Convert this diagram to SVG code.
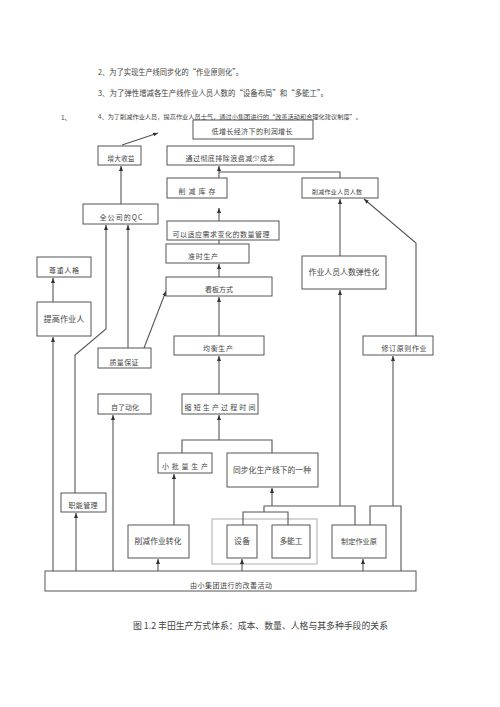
<svg xmlns="http://www.w3.org/2000/svg" width="500" height="707" viewBox="0 0 500 707">
<style>
.b{fill:#fff;stroke:#555;stroke-width:1}
.t{font-family:"Noto Sans CJK SC","Noto Sans",sans-serif;fill:#444;text-anchor:middle;font-size:7px}
.h{font-family:"Noto Sans CJK SC","Noto Sans",sans-serif;fill:#444;font-size:7.5px}
.c line,.c polyline{fill:none;stroke:#555;stroke-width:1.1}
.a{marker-end:url(#ah)}
</style>
<defs>
<marker id="ah" viewBox="0 0 10 10" refX="10" refY="5" markerWidth="5" markerHeight="5" markerUnits="userSpaceOnUse" orient="auto">
<path d="M0,1 L10,5 L0,9 z" fill="#333"/>
</marker>
</defs>
<rect width="500" height="707" fill="#fff"/>
<text class="h" x="98" y="75" textLength="145" lengthAdjust="spacingAndGlyphs">2、为了实现生产线同步化的“作业原则化”。</text>
<text class="h" x="98" y="96" textLength="230" lengthAdjust="spacingAndGlyphs">3、为了弹性增减各生产线作业人员人数的“设备布局”和“多能工”。</text>
<text class="h" x="61" y="120" style="font-size:6.5px">1、</text>

<g id="n_gray"><rect x="212" y="519" width="105" height="45" fill="none" stroke="#bbb" stroke-width="1.2"/></g>

<g class="c" id="connectors">
<line class="a" x1="122" y1="145" x2="158" y2="133"/>
<line class="a" x1="121" y1="204" x2="121" y2="166"/>
<polyline points="340,178 340,172 219,172"/>
<line class="a" x1="219" y1="178" x2="219" y2="166"/>
<line class="a" x1="219" y1="221" x2="219" y2="208"/>
<line class="a" x1="219" y1="244" x2="219" y2="232"/>
<line class="a" x1="219" y1="277" x2="219" y2="264"/>
<line class="a" x1="219" y1="336" x2="219" y2="297"/>
<line class="a" x1="219" y1="394" x2="219" y2="356"/>
<polyline points="182,453 182,440 272,440 272,453"/>
<line class="a" x1="219" y1="440" x2="219" y2="415"/>
<line class="a" x1="340" y1="256" x2="340" y2="199"/>
<polyline class="a" points="416,336 416,243 364,199"/>
<line class="a" x1="144" y1="348" x2="166" y2="291"/>
<line class="a" x1="128" y1="348" x2="128" y2="225"/>
<polyline class="a" points="75,493 75,355 106,329 106,225"/>
<line class="a" x1="53" y1="302" x2="53" y2="278"/>
<line class="a" x1="53" y1="571" x2="53" y2="337"/>
<line class="a" x1="76" y1="571" x2="76" y2="513"/>
<line class="a" x1="113" y1="571" x2="113" y2="415"/>
<line class="a" x1="174" y1="525" x2="174" y2="474"/>
<line class="a" x1="158" y1="571" x2="158" y2="559"/>
<line class="a" x1="242" y1="571" x2="242" y2="559"/>
<line class="a" x1="363" y1="571" x2="363" y2="559"/>
<polyline points="243,525 243,512 288,512 288,525"/>
<polyline points="264,512 264,506 355,506 355,525"/>
<line class="a" x1="272" y1="506" x2="272" y2="488"/>
<line class="a" x1="340" y1="506" x2="340" y2="290"/>
<polyline points="370,525 370,506 401,506 401,571"/>
<line class="a" x1="393" y1="506" x2="393" y2="356"/>
</g>

<g id="n_top"><rect class="b" x="193" y="120" width="120" height="19"/><text class="t" x="252" y="134" textLength="81">低增长经济下的利润增长</text></g>
<text class="h" x="98" y="119" style="font-size:6px" textLength="264" lengthAdjust="spacingAndGlyphs">4、为了削减作业人员，提高作业人员士气，通过小集团进行的“改善活动和合理化建议制度”。</text>
<g id="n_shouyi"><rect class="b" x="98" y="146" width="43" height="19"/><text class="t" x="121" y="161" style="font-size:6.5px" textLength="27">增大收益</text></g>
<g id="n_chengben"><rect class="b" x="167" y="146" width="127" height="19"/><text class="t" x="230" y="161" textLength="89">通过彻底排除浪费减少成本</text></g>
<g id="n_kucun"><rect class="b" x="167" y="178" width="60" height="20"/><text class="t" x="197" y="194" textLength="37">削减库存</text></g>
<g id="n_renshu"><rect class="b" x="302" y="178" width="76" height="20"/><text class="t" x="337" y="194" style="font-size:6px" textLength="50">削减作业人员人数</text></g>
<g id="n_qc"><rect class="b" x="83" y="204" width="75" height="20"/><text class="t" x="121" y="220" textLength="43">全公司的QC</text></g>
<g id="n_shuliang"><rect class="b" x="167" y="221" width="112" height="19"/><text class="t" x="221" y="237" textLength="97">可以适应需求变化的数量管理</text></g>
<g id="n_zhunshi"><rect class="b" x="166" y="244" width="83" height="19"/><text class="t" x="203" y="259" textLength="30">准时生产</text></g>
<g id="n_kanban"><rect class="b" x="166" y="277" width="106" height="19"/><text class="t" x="219" y="292" textLength="28">看板方式</text></g>
<g id="n_zunzhong"><rect class="b" x="37" y="257" width="54" height="20"/><text class="t" x="64" y="273" textLength="30">尊重人格</text></g>
<g id="n_tigao"><rect class="b" x="37" y="302" width="54" height="34"/><text class="t" x="64" y="322" style="font-size:8.2px" textLength="41">提高作业人</text></g>
<g id="n_tanxing"><rect class="b" x="302" y="256" width="84" height="33"/><text class="t" x="344" y="275" style="font-size:7.9px" textLength="71">作业人员人数弹性化</text></g>
<g id="n_junheng"><rect class="b" x="174" y="336" width="90" height="19"/><text class="t" x="218" y="351" textLength="30">均衡生产</text></g>
<g id="n_zhiliang"><rect class="b" x="98" y="348" width="53" height="20"/><text class="t" x="124" y="365" textLength="29">质量保证</text></g>
<g id="n_xiuding"><rect class="b" x="363" y="336" width="70" height="19"/><text class="t" x="404" y="351" textLength="45">修订原则作业</text></g>
<g id="n_zidong"><rect class="b" x="98" y="394" width="53" height="20"/><text class="t" x="125" y="410" textLength="28">自了动化</text></g>
<g id="n_suoduan"><rect class="b" x="182" y="394" width="76" height="20"/><text class="t" x="220" y="410" textLength="71">缩短生产过程时间</text></g>
<g id="n_xiaopi"><rect class="b" x="158" y="453" width="54" height="20"/><text class="t" x="185" y="469" textLength="46">小批量生产</text></g>
<g id="n_tongbu"><rect class="b" x="227" y="453" width="91" height="34"/><text class="t" x="272" y="473" style="font-size:7.8px" textLength="78">同步化生产线下的一种</text></g>
<g id="n_zhineng"><rect class="b" x="61" y="493" width="45" height="19"/><text class="t" x="83" y="508" textLength="29">职能管理</text></g>
<g id="n_zhuanhua"><rect class="b" x="128" y="525" width="61" height="33"/><text class="t" x="158" y="544" style="font-size:7.8px" textLength="47">削减作业转化</text></g>
<g id="n_shebei"><rect class="b" x="227" y="525" width="30" height="33"/><text class="t" x="242" y="544" style="font-size:7.8px" textLength="16">设备</text></g>
<g id="n_duoneng"><rect class="b" x="272" y="525" width="38" height="33"/><text class="t" x="291" y="544" style="font-size:7.8px" textLength="23">多能工</text></g>
<g id="n_zhiding"><rect class="b" x="332" y="525" width="54" height="33"/><text class="t" x="359" y="544" style="font-size:7.2px" textLength="36">制定作业原</text></g>
<g id="n_bar"><rect class="b" x="45" y="571" width="371" height="20" stroke-width="1.3"/><text class="t" x="231" y="588" textLength="82">由小集团进行的改善活动</text></g>

<text class="h" x="133" y="629" style="font-size:9.3px" textLength="255" lengthAdjust="spacingAndGlyphs">图 1.2 丰田生产方式体系：成本、数量、人格与其多种手段的关系</text>
</svg>
